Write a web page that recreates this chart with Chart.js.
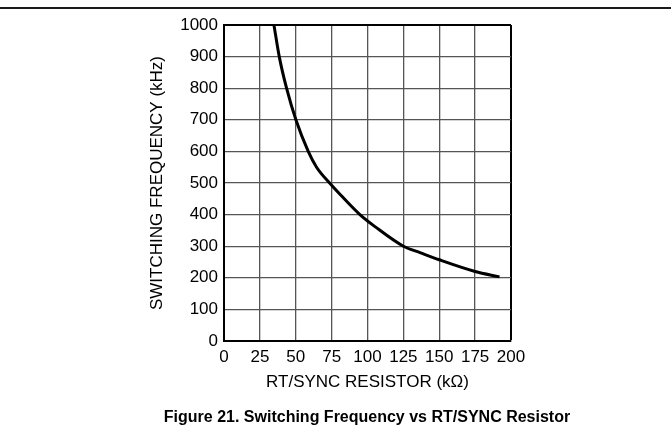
<!DOCTYPE html>
<html>
<head>
<meta charset="utf-8">
<script src="https://cdn.jsdelivr.net/npm/chart.js@4"></script>
<style>
    body { margin: 0; background: #fff; }
    #wrap { position: relative; width: 671px; height: 440px; }
    #regua { position: absolute; left: 0; top: 7px; width: 671px; height: 2px; background: #1a1a1a; }
    #legenda {
        position: absolute; left: 0; top: 408px; width: 734px; text-align: center;
        font-family: "Liberation Sans", Arial, sans-serif; font-weight: bold; font-size: 16px; color: #000;
    }
</style>
</head>
<body>
<div id="wrap">
    <div id="regua"></div>
    <canvas id="grafico" width="671" height="440"></canvas>
    <div id="legenda">Figure 21. Switching Frequency vs RT/SYNC Resistor</div>
</div>
<script>
// Valores (kΩ, kHz)
const resistor = [34.8, 38.5, 43.6, 50.1, 58.7, 64.5, 73.6, 81.3, 94.7, 105.2, 125, 137, 150, 175, 192];
const frequencia = [1000, 900, 800, 700, 600, 550, 500, 462, 400, 362, 300, 279, 257, 220, 203];

const xTitulo = "RT/SYNC RESISTOR (kΩ)";
const yTitulo = "SWITCHING FREQUENCY (kHz)";

const fonte = { family: "'Liberation Sans', Arial, sans-serif", size: 17 };

function corGrade(ctx, borda) {
    return ctx.tick && ctx.tick.value === borda ? "#000" : "#555";
}

const ctx = document.getElementById("grafico").getContext("2d");

new Chart(ctx, {
    type: "scatter",
    data: {
        datasets: [{
            data: resistor.map((r, i) => ({ x: r, y: frequencia[i] })),
            showLine: true,
            borderColor: "#000",
            borderWidth: 3,
            pointRadius: 0,
            cubicInterpolationMode: "monotone",
        }],
    },
    options: {
        responsive: false,
        animation: false,
        layout: { padding: { left: 0, right: 160, top: 25, bottom: 47 } },
        plugins: { legend: { display: false }, tooltip: { enabled: false } },
        scales: {
            x: {
                type: "linear",
                min: 0,
                max: 200,
                ticks: { stepSize: 25, color: "#000", font: fonte, padding: 6, maxRotation: 0, callback: v => String(v) },
                grid: {
                    drawTicks: false,
                    color: c => corGrade(c, 200),
                    lineWidth: c => (c.tick && c.tick.value === 200 ? 2 : 1.3),
                },
                border: { color: "#000", width: 2 },
                title: { display: true, text: xTitulo, color: "#000", font: fonte, padding: { top: 0, bottom: 0 } },
                afterFit: scale => { scale.height = 52; },
            },
            y: {
                min: 0,
                max: 1000,
                ticks: { stepSize: 100, color: "#000", font: fonte, padding: 6, callback: v => String(v) },
                grid: {
                    drawTicks: false,
                    color: c => corGrade(c, 1000),
                    lineWidth: c => (c.tick && c.tick.value === 1000 ? 2 : 1.3),
                },
                border: { color: "#000", width: 2 },
                title: { display: true, text: yTitulo, color: "#000", font: fonte, padding: { top: 147, bottom: 0 } },
                afterFit: scale => { scale.width = 224; },
            },
        },
    },
});
</script>
</body>
</html>
